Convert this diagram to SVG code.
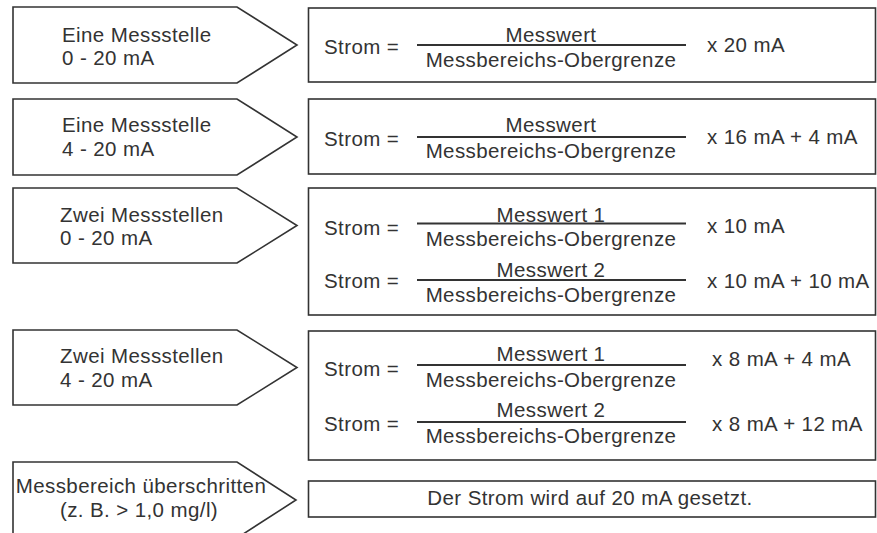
<svg xmlns="http://www.w3.org/2000/svg" width="877" height="533" viewBox="0 0 877 533">
<style>
  .shape { fill: #ffffff; stroke: #333333; stroke-width: 1.6; }
  .frac { stroke: #333333; stroke-width: 2; }
  text { font-family: "Liberation Sans", Arial, sans-serif; font-size: 20.5px; fill: #333333; letter-spacing: 0.4px; }
  .mid { text-anchor: middle; }
</style>
<rect width="877" height="533" fill="#ffffff"/>

<g id="arrow1">
  <polygon class="shape" points="13,7 237,7 297,45 237,83 13,83"/>
  <text x="62" y="42">Eine Messstelle</text>
  <text x="62" y="65">0 - 20 mA</text>
</g>
<g id="arrow2">
  <polygon class="shape" points="13,99 237,99 297,137 237,175 13,175"/>
  <text x="62" y="132">Eine Messstelle</text>
  <text x="62" y="156">4 - 20 mA</text>
</g>
<g id="arrow3">
  <polygon class="shape" points="13,188 237,188 297,225.5 237,263 13,263"/>
  <text x="60" y="222">Zwei Messstellen</text>
  <text x="60" y="245">0 - 20 mA</text>
</g>
<g id="arrow4">
  <polygon class="shape" points="13,330 237,330 297,367.5 237,405 13,405"/>
  <text x="60" y="363">Zwei Messstellen</text>
  <text x="60" y="387">4 - 20 mA</text>
</g>
<g id="arrow5">
  <polygon class="shape" points="13,462 237,462 296,500 237,538 13,538"/>
  <text class="mid" x="141" y="493">Messbereich überschritten</text>
  <text class="mid" x="139" y="517">(z. B. &gt; 1,0 mg/l)</text>
</g>

<g id="box1">
  <rect class="shape" x="308.5" y="8" width="567" height="74"/>
  <text x="324" y="54">Strom =</text>
  <text class="mid" x="551" y="42">Messwert</text>
  <line class="frac" x1="417" y1="45" x2="686" y2="45"/>
  <text class="mid" x="551" y="67">Messbereichs-Obergrenze</text>
  <text x="707" y="52">x 20 mA</text>
</g>
<g id="box2">
  <rect class="shape" x="308.5" y="99" width="567" height="75"/>
  <text x="324" y="146">Strom =</text>
  <text class="mid" x="551" y="132">Messwert</text>
  <line class="frac" x1="417" y1="137" x2="686" y2="137"/>
  <text class="mid" x="551" y="158">Messbereichs-Obergrenze</text>
  <text x="707" y="144">x 16 mA + 4 mA</text>
</g>
<g id="box3">
  <rect class="shape" x="308.5" y="188" width="567" height="127"/>
  <text x="324" y="235">Strom =</text>
  <text class="mid" x="551" y="221.5">Messwert 1</text>
  <line class="frac" x1="417" y1="223.5" x2="686" y2="223.5"/>
  <text class="mid" x="551" y="246">Messbereichs-Obergrenze</text>
  <text x="707" y="233">x 10 mA</text>
  <text x="324" y="288">Strom =</text>
  <text class="mid" x="551" y="277">Messwert 2</text>
  <line class="frac" x1="417" y1="280" x2="686" y2="280"/>
  <text class="mid" x="551" y="302">Messbereichs-Obergrenze</text>
  <text x="707" y="288">x 10 mA + 10 mA</text>
</g>
<g id="box4">
  <rect class="shape" x="308.5" y="331" width="567" height="129"/>
  <text x="324" y="376">Strom =</text>
  <text class="mid" x="551" y="361">Messwert 1</text>
  <line class="frac" x1="417" y1="365" x2="686" y2="365"/>
  <text class="mid" x="551" y="387">Messbereichs-Obergrenze</text>
  <text x="712" y="366">x 8 mA + 4 mA</text>
  <text x="324" y="431">Strom =</text>
  <text class="mid" x="551" y="417">Messwert 2</text>
  <line class="frac" x1="417" y1="422" x2="686" y2="422"/>
  <text class="mid" x="551" y="443">Messbereichs-Obergrenze</text>
  <text x="712" y="431">x 8 mA + 12 mA</text>
</g>
<g id="box5">
  <rect class="shape" x="308.5" y="481" width="567" height="36"/>
  <text class="mid" x="590" y="505">Der Strom wird auf 20 mA gesetzt.</text>
</g>

<g id="connectors"></g>
</svg>
